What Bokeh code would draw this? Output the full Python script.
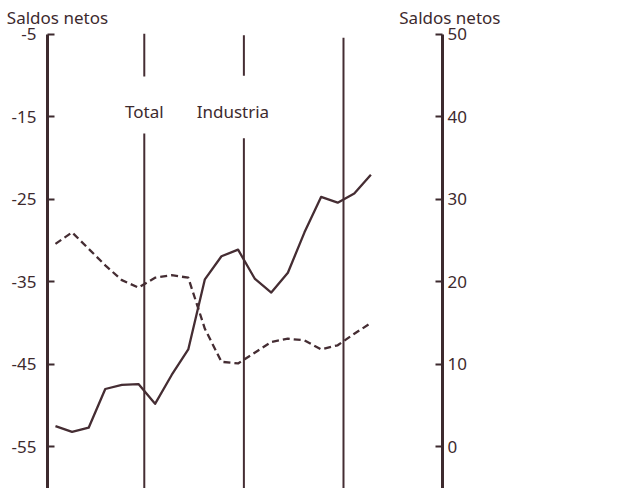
from bokeh.plotting import figure
from bokeh.models import Range1d, LinearAxis, FixedTicker, Label
from bokeh.embed import file_html
from bokeh.resources import INLINE

# ---- data (bimonthly periods) ----
periodos = [0, 1, 2, 3, 4, 5, 6, 7, 8, 9, 10, 11, 12, 13, 14, 15, 16, 17, 18, 19]
serie_continua = [-52.5, -53.2, -52.7, -48.0, -47.5, -47.4, -49.8, -46.3, -43.2, -34.7,
                  -31.9, -31.1, -34.6, -36.3, -33.9, -29.0, -24.7, -25.4, -24.3, -22.0]
serie_discontinua = [24.6, 26.0, 24.0, 22.0, 20.2, 19.3, 20.5, 20.8, 20.5, 14.3,
                     10.3, 10.1, 11.4, 12.7, 13.1, 12.9, 11.8, 12.3, 13.7, 15.0]
cortes_anuales = [5.35, 11.35, 17.35]
etiquetas = ["Total", "Industria"]
ticks_izq = [-5, -15, -25, -35, -45, -55]
ticks_der = [0, 10, 20, 30, 40, 50]
titulo_eje = "Saldos netos"

# ---- style ----
INK = "#3d2a2e"
LINE = "#452d33"
FONT = "Noto Sans"
FS = "17px"

x_start, x_end = -0.48, 32.35
x_eje_der = 23.31
y_min, y_top = -60.07, -5.0          # axis extent (left scale)
y_frame_top = -4.03                  # a little head-room above the axes
offset = 55.0                        # right axis = left axis + 55

p = figure(width=627, height=488, output_backend="svg", toolbar_location=None,
           x_range=Range1d(x_start, x_end), y_range=Range1d(y_min, y_frame_top),
           x_axis_location=None, min_border_left=47, min_border_right=35,
           min_border_top=26, min_border_bottom=0)
p.extra_y_ranges = {"right": Range1d(y_min + offset, y_frame_top + offset)}
p.outline_line_color = None
p.grid.visible = False
p.background_fill_color = "white"
p.border_fill_color = "white"

def style_axis(ax, ticks, standoff, bounds):
    ax.ticker = FixedTicker(ticks=ticks)
    ax.bounds = bounds
    ax.major_label_overrides = {t: str(t) for t in ticks}
    ax.axis_line_width = 3
    ax.axis_line_color = INK
    ax.major_tick_in = 7
    ax.major_tick_out = 0
    ax.major_tick_line_width = 2
    ax.major_tick_line_color = INK
    ax.minor_tick_line_color = None
    ax.major_label_text_font = FONT
    ax.major_label_text_font_size = FS
    ax.major_label_text_color = INK
    ax.major_label_standoff = standoff

style_axis(p.yaxis[0], ticks_izq, 11, (y_min, y_top))
right_axis = LinearAxis(y_range_name="right", fixed_location=x_eje_der)
style_axis(right_axis, ticks_der, 5, (y_min + offset, y_top + offset))
p.add_layout(right_axis, "right")

# axis titles, drawn as the labels of an (invisible-line) top axis
pos_titulos = [round(x_start + 0.6, 2), round(x_eje_der + 0.45, 2)]
top_axis = LinearAxis(ticker=FixedTicker(ticks=pos_titulos),
                      major_label_overrides={t: titulo_eje for t in pos_titulos})
top_axis.axis_line_color = None
top_axis.major_tick_line_color = None
top_axis.minor_tick_line_color = None
top_axis.major_tick_out = 0
top_axis.major_tick_in = 0
top_axis.major_label_standoff = -2
top_axis.major_label_text_font = FONT
top_axis.major_label_text_font_size = FS
top_axis.major_label_text_color = INK
p.add_layout(top_axis, "above")

# year separator lines (first two interrupted for the labels)
p.segment(x0=cortes_anuales[:2], y0=[-4.9, -5.1], x1=cortes_anuales[:2], y1=[-10.1, -10.0],
          line_color=LINE, line_width=2)
p.segment(x0=cortes_anuales[:2], y0=[-17.0, -17.6], x1=cortes_anuales[:2], y1=[y_min, y_min],
          line_color=LINE, line_width=2)
p.segment(x0=cortes_anuales[2:], y0=[-5.4], x1=cortes_anuales[2:], y1=[y_min],
          line_color=LINE, line_width=2)

# series
p.line(periodos, serie_continua, line_color=LINE, line_width=2.3, line_join="round")
p.line(periodos, serie_discontinua, y_range_name="right", line_color=LINE, line_width=2.3,
       line_dash="7 4", line_join="round")

# series labels
for lbl, xc, dx in zip(etiquetas, cortes_anuales[:2], [0, -11]):
    p.add_layout(Label(x=xc, y=-14.35, x_offset=dx, text=lbl, text_align="center",
                       text_baseline="alphabetic", text_font=FONT, text_font_size=FS,
                       text_color=INK))

open("out.html", "w").write(file_html(p, INLINE))
